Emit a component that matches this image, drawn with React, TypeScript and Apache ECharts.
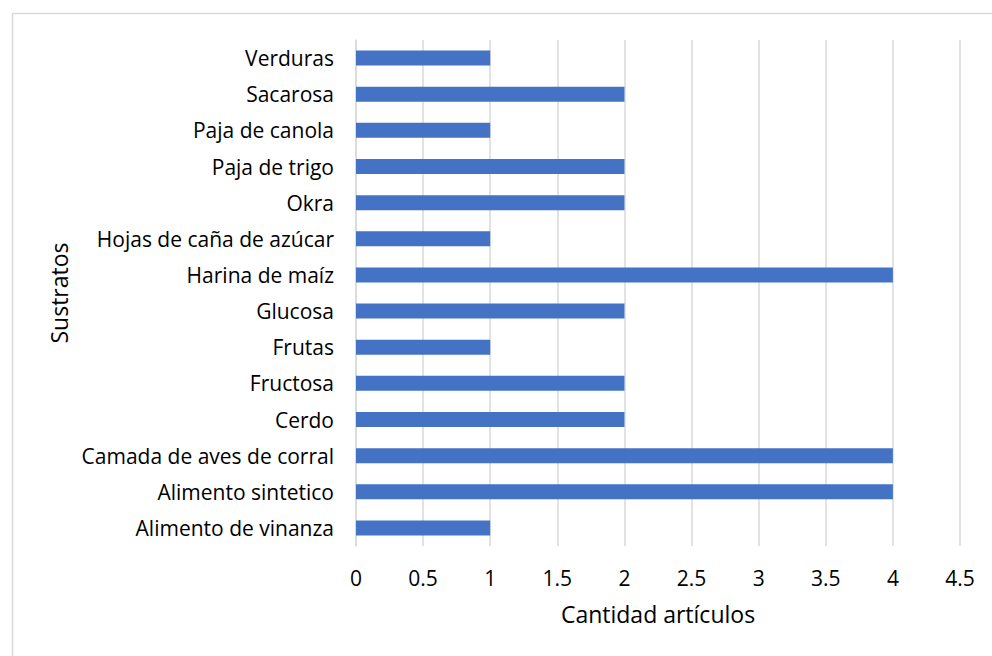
import React, { useEffect, useRef } from "react";
import * as echarts from "echarts";

const categories = [
  "Alimento de vinanza",
  "Alimento sintetico",
  "Camada de aves de corral",
  "Cerdo",
  "Fructosa",
  "Frutas",
  "Glucosa",
  "Harina de maíz",
  "Hojas de caña de azúcar",
  "Okra",
  "Paja de trigo",
  "Paja de canola",
  "Sacarosa",
  "Verduras",
];
const values = [1, 4, 4, 2, 2, 1, 2, 4, 1, 2, 2, 1, 2, 1];
const xName = "Cantidad artículos";
const yName = "Sustratos";

const FONT = "Open Sans";

export default function App() {
  const ref = useRef<HTMLDivElement>(null);
  useEffect(() => {
    if (!ref.current) return;
    const chart = echarts.init(ref.current, undefined, { renderer: "svg" });
    chart.setOption({
      animation: false,
      backgroundColor: "#ffffff",
      textStyle: { fontFamily: FONT },
      graphic: [
        {
          type: "rect",
          left: 10,
          top: 11,
          shape: { width: 1200, height: 900 },
          style: { fill: "none", stroke: "#D9D9D9", lineWidth: 1.5 },
          silent: true,
        },
      ],
      grid: { left: 356, right: 32, top: 40, bottom: 110 },
      xAxis: {
        type: "value",
        min: 0,
        max: 4.5,
        interval: 0.5,
        name: xName,
        nameLocation: "middle",
        nameGap: 56,
        nameTextStyle: { fontSize: 23, color: "#000", fontFamily: FONT },
        axisLine: { show: false },
        axisTick: { show: false },
        axisLabel: { fontSize: 21, color: "#000", margin: 21, fontFamily: FONT },
        splitLine: { show: true, lineStyle: { color: "#D9D9D9", width: 1.5 } },
      },
      yAxis: {
        type: "category",
        data: categories,
        name: yName,
        nameLocation: "middle",
        nameGap: 281,
        nameRotate: 90,
        nameTextStyle: { fontSize: 23, color: "#000", fontFamily: FONT },
        axisLine: { show: true, lineStyle: { color: "#D9D9D9", width: 1.5 } },
        axisTick: { show: false },
        axisLabel: { fontSize: 21, color: "#000", margin: 22, fontFamily: FONT },
      },
      series: [
        {
          type: "bar",
          data: values,
          barWidth: 15,
          itemStyle: { color: "#4472C4" },
        },
      ],
    });
    return () => chart.dispose();
  }, []);
  return (
    <div
      ref={ref}
      style={{ position: "absolute", left: 0, top: 0, width: 992, height: 656 }}
    />
  );
}
